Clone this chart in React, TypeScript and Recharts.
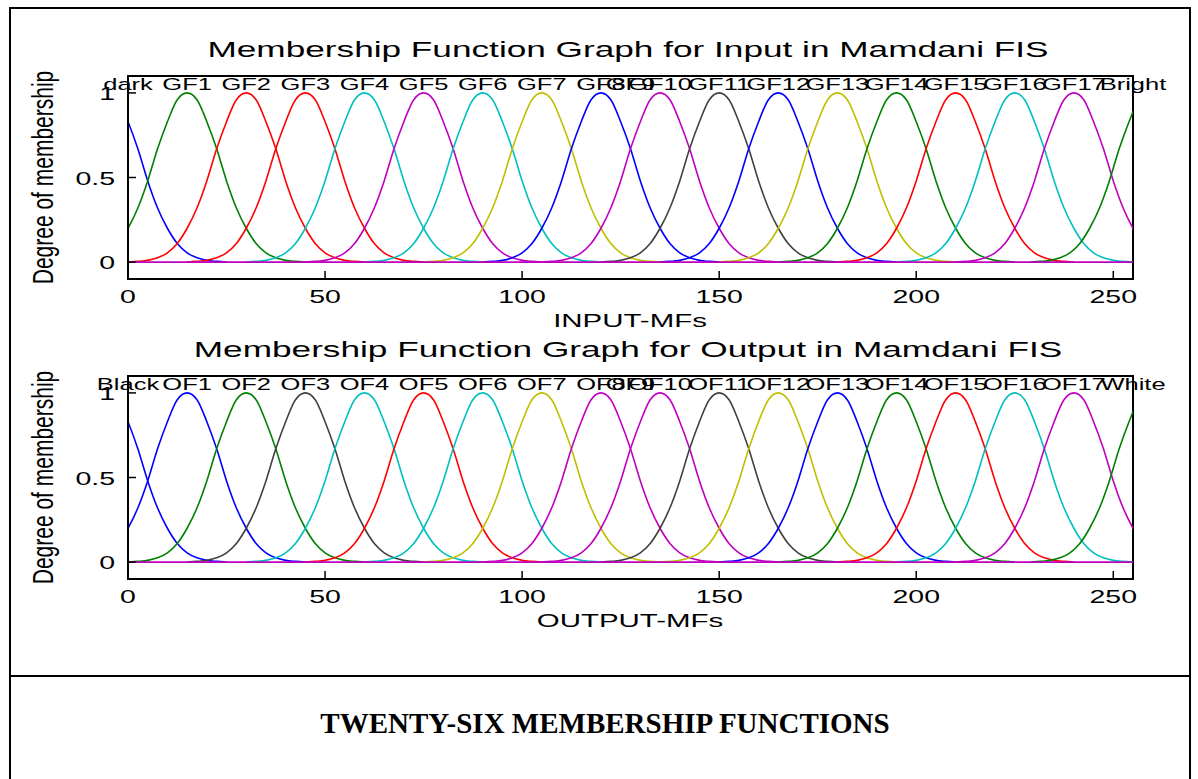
import React from 'react';
import { LineChart, Line, XAxis, YAxis, ReferenceDot, ReferenceArea } from 'recharts';

const X_DOMAIN: [number, number] = [0, 255];
const Y_DOMAIN: [number, number] = [-0.1, 1.1];
const X_TICKS = [0, 50, 100, 150, 200, 250];
const Y_TICKS = [0, 0.5, 1];

// one gaussian bump: distance from centre -> degree
const BUMP_OFFSETS = [0, 2.5, 5, 7.5, 10, 12.5, 15, 17.5, 20, 22.5, 25, 27.5, 30];
const BUMP_VALUES = [1, 0.96, 0.83, 0.67, 0.48, 0.32, 0.2, 0.11, 0.055, 0.025, 0.01, 0.004, 0];

const B = '#0000FF';
const G = '#008000';
const R = '#FF0000';
const C = '#00BFBF';
const M = '#BF00BF';
const Y = '#BFBF00';
const K = '#404040';

// null centre = the MF that stays at 0 over the whole range
const INPUT_NAMES = ['dark', 'GF1', 'GF2', 'GF3', 'GF4', 'GF5', 'GF6', 'GF7', 'GF8', 'GF9', 'GF10', 'GF11', 'GF12', 'GF13', 'GF14', 'GF15', 'GF16', 'GF17', 'Bright'];
const INPUT_CENTERS = [-5, 15, 30, 45, 60, 75, 90, 105, 120, null, 135, 150, 165, 180, 195, 210, 225, 240, 259];
const INPUT_COLORS = [B, G, R, R, C, M, C, Y, B, M, M, K, B, Y, G, R, C, M, G];

const OUTPUT_NAMES = ['Black', 'OF1', 'OF2', 'OF3', 'OF4', 'OF5', 'OF6', 'OF7', 'OF8', 'OF9', 'OF10', 'OF11', 'OF12', 'OF13', 'OF14', 'OF15', 'OF16', 'OF17', 'White'];
const OUTPUT_CENTERS = [-5, 15, 30, 45, 60, 75, 90, 105, 120, null, 135, 150, 165, 180, 195, 210, 225, 240, 259];
const OUTPUT_COLORS = [B, B, G, K, C, R, C, Y, M, M, M, K, Y, B, G, R, C, M, G];

const FONT = '"Liberation Sans", Arial, Helvetica, sans-serif';
const SX = 1.5; // matlab figure is stretched sideways

const bumpPoints = (c: number | null) => {
  if (c === null) return X_DOMAIN.map((x) => ({ x, y: 0 }));
  const pts: { x: number; y: number }[] = [];
  for (let i = BUMP_OFFSETS.length - 1; i > 0; i--) pts.push({ x: c - BUMP_OFFSETS[i], y: BUMP_VALUES[i] });
  for (let i = 0; i < BUMP_OFFSETS.length; i++) pts.push({ x: c + BUMP_OFFSETS[i], y: BUMP_VALUES[i] });
  return pts;
};

const labelX = (c: number | null) => {
  if (c === null) return (X_DOMAIN[0] + X_DOMAIN[1]) / 2;
  return Math.min(X_DOMAIN[1], Math.max(X_DOMAIN[0], c));
};

function StretchText({ x, y, size, anchor = 'middle', sx = SX, children }: any) {
  return (
    <text
      transform={`translate(${x},${y}) scale(${sx},1)`}
      textAnchor={anchor}
      fontFamily={FONT}
      fontSize={size}
      fill="#000"
    >
      {children}
    </text>
  );
}

// tickSize/tickMargin are 0 so x,y land on the axis line itself
const XTick = (p: any) => (
  <g>
    <line x1={p.x} y1={p.y} x2={p.x} y2={p.y - 8} stroke="#000" strokeWidth={1.5} />
    <StretchText x={p.x} y={p.y + 24} size={19}>{p.payload.value}</StretchText>
  </g>
);

const YTick = (p: any) => (
  <g>
    <line x1={p.x} y1={p.y} x2={p.x + 8} y2={p.y} stroke="#000" strokeWidth={1.5} />
    <StretchText x={p.x - 13} y={p.y + 7} size={19} anchor="end">{p.payload.value}</StretchText>
  </g>
);

function MfPlot({ names, centers, colors, title, xLabel, top }: any) {
  const order = centers
    .map((_: any, i: number) => i)
    .sort((a: number, b: number) => (centers[a] === null ? 1 : 0) - (centers[b] === null ? 1 : 0));
  return (
    <div style={{ position: 'absolute', left: 0, top, width: 1198, height: 340 }}>
      <LineChart width={1198} height={340} margin={{ top: 76, right: 65, bottom: 21, left: 68 }}>
        <XAxis
          type="number"
          dataKey="x"
          domain={X_DOMAIN}
          allowDataOverflow
          ticks={X_TICKS}
          interval={0}
          height={40}
          tickSize={0}
          tickMargin={0}
          tickLine={false}
          tick={(p: any) => <XTick {...p} />}
          axisLine={{ stroke: '#000', strokeWidth: 2 }}
        />
        <YAxis
          type="number"
          domain={Y_DOMAIN}
          allowDataOverflow
          ticks={Y_TICKS}
          interval={0}
          width={60}
          tickSize={0}
          tickMargin={0}
          tickLine={false}
          tick={(p: any) => <YTick {...p} />}
          axisLine={{ stroke: '#000', strokeWidth: 2 }}
        />
        <ReferenceArea x1={X_DOMAIN[0]} x2={X_DOMAIN[1]} y1={Y_DOMAIN[0]} y2={Y_DOMAIN[1]} fill="none" stroke="#000" strokeWidth={2} />
        {order.map((i: number) => (
          <Line
            key={names[i]}
            data={bumpPoints(centers[i])}
            dataKey="y"
            type="monotone"
            stroke={colors[i]}
            strokeWidth={1.6}
            dot={false}
            activeDot={false}
            isAnimationActive={false}
          />
        ))}
        {names.map((n: string, i: number) => (
          <ReferenceDot
            key={'lbl-' + n}
            x={labelX(centers[i])}
            y={1}
            r={0}
            shape={(p: any) => <StretchText x={p.cx} y={p.cy - 3} size={17}>{n}</StretchText>}
          />
        ))}
      </LineChart>
      <svg width={1198} height={340} style={{ position: 'absolute', left: 0, top: 0, pointerEvents: 'none' }}>
        <StretchText x={628} y={57} size={22} sx={1.6}>{title}</StretchText>
        <StretchText x={630} y={327} size={19} sx={1.55}>{xLabel}</StretchText>
        <text
          transform={`translate(43,177.5) scale(1.4,1) rotate(-90)`}
          textAnchor="middle"
          dominantBaseline="central"
          fontFamily={FONT}
          fontSize={21}
          fill="#000"
        >
          Degree of membership
        </text>
      </svg>
    </div>
  );
}

export default function App() {
  return (
    <div style={{ position: 'absolute', left: 0, top: 0, width: 1198, height: 779, overflow: 'hidden', background: '#fff' }}>
      <div style={{ position: 'absolute', left: 9, top: 7, width: 1178, height: 800, borderLeft: '2px solid #000', borderTop: '2px solid #000', borderRight: '2px solid #000' }} />
      <MfPlot
        names={INPUT_NAMES}
        centers={INPUT_CENTERS}
        colors={INPUT_COLORS}
        title="Membership Function Graph for Input in Mamdani FIS"
        xLabel="INPUT-MFs"
        top={0}
      />
      <MfPlot
        names={OUTPUT_NAMES}
        centers={OUTPUT_CENTERS}
        colors={OUTPUT_COLORS}
        title="Membership Function Graph for Output in Mamdani FIS"
        xLabel="OUTPUT-MFs"
        top={300}
      />
      <div style={{ position: 'absolute', left: 9, top: 675, width: 1182, height: 2, background: '#000' }} />
      <div
        style={{
          position: 'absolute',
          left: 10,
          top: 707,
          width: 1190,
          lineHeight: '32px',
          textAlign: 'center',
          fontFamily: '"Liberation Serif", "Times New Roman", serif',
          fontWeight: 'bold',
          fontSize: 29,
        }}
      >
        TWENTY-SIX MEMBERSHIP FUNCTIONS
      </div>
    </div>
  );
}
